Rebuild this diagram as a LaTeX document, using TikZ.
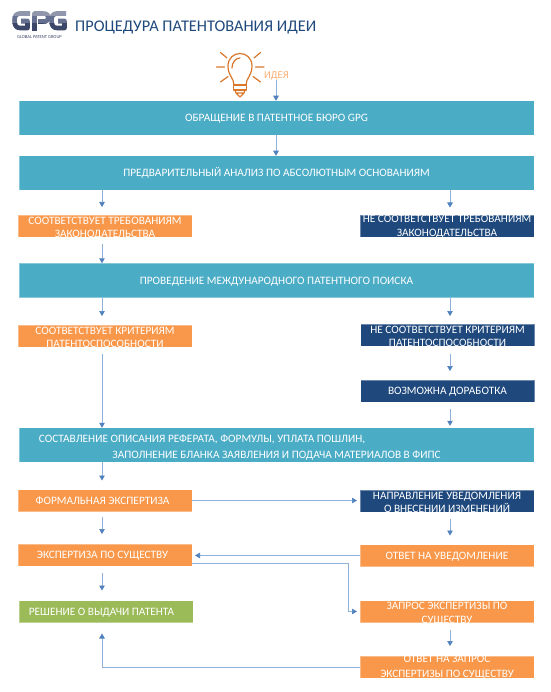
\documentclass[tikz,border=0pt]{standalone}
\usepackage{fontspec}
\setmainfont{Carlito}
\usetikzlibrary{arrows.meta,calc}
\definecolor{teal1}{HTML}{4BACC6}
\definecolor{org}{HTML}{F9984A}
\definecolor{navy}{HTML}{1F497D}
\definecolor{grn}{HTML}{9BBB59}
\definecolor{lnk}{HTML}{8FB0DA}
\definecolor{tip}{HTML}{4F81BD}
\definecolor{bulb}{HTML}{D9782D}
\definecolor{idealab}{HTML}{FAAE72}
\definecolor{logoa}{HTML}{9097AC}
\definecolor{logob}{HTML}{667090}
\definecolor{logoc}{HTML}{3C4668}
\newcommand{\twol}[4]{\smash{\raisebox{#1}{\fontsize{11.3}{#2}\selectfont\begin{tabular}{@{}c@{}}#3\\#4\end{tabular}}}}
\newcommand{\logopaths}{%
 \draw[logostroke] (30,13.5) -- (20,13.5) .. controls (16,13.5) and (14.5,16) .. (14.5,20.5) .. controls (14.5,25) and (16,28) .. (20,28) -- (27.5,28) -- (27.5,21) -- (21,21);
 \draw[logostroke] (34.5,31) -- (34.5,13.5) -- (43,13.5) .. controls (47,13.5) and (48.5,15) .. (48.5,17.5) .. controls (48.5,20) and (47,21.5) .. (43,21.5) -- (38,21.5);
 \draw[logostroke] (66,13.5) -- (57,13.5) .. controls (53,13.5) and (51.5,16) .. (51.5,20.5) .. controls (51.5,25) and (53,28) .. (57,28) -- (64.5,28) -- (64.5,21) -- (58,21);
}
\tikzset{
 x=1pt,y=-1pt,
 logostroke/.style={line width=4.6pt,line join=round},
 box/.style={minimum width=#1,inner sep=0pt,outer sep=0pt,text=white,align=center,font=\fontsize{11.3}{14}\selectfont,text height=7.2pt,text depth=0pt,draw=white,draw opacity=.35,line width=.6pt},
 tealbox/.style={box=515pt,fill=teal1,minimum height=34.5pt},
 orgbox/.style={box=174pt,fill=org,minimum height=22pt},
 navybox/.style={box=174pt,fill=navy,minimum height=22pt},
 grnbox/.style={box=174pt,fill=grn,minimum height=22pt},
 arr/.style={draw=lnk,line width=.7pt,-{Triangle[length=5pt,width=5.5pt,fill=tip,color=tip]}},
 bulbline/.style={draw=bulb,line width=1.2pt,line cap=round,line join=round},
}
\begin{document}
\begin{tikzpicture}
\useasboundingbox (0,0) rectangle (550,692);
\fill[white] (0,0) rectangle (550,692);
\coordinate (L) at (102,0);
\coordinate (R) at (450,0);
% logo
\begin{scope}\clip (0,9) rectangle (80,17); \begin{scope}[draw=logoa]\logopaths\end{scope}\end{scope}
\begin{scope}\clip (0,17) rectangle (80,24); \begin{scope}[draw=logob]\logopaths\end{scope}\end{scope}
\begin{scope}\clip (0,24) rectangle (80,33); \begin{scope}[draw=logoc]\logopaths\end{scope}\end{scope}
\node[inner sep=0pt,text=logoc,font=\fontsize{4.6}{5}\selectfont] (logosub) at (39.5,37.3) {GLOBAL PATENT GROUP};
\node[anchor=west,inner sep=0pt,text=navy,font=\fontsize{16.3}{18}\selectfont] (title) at (75,27) {ПРОЦЕДУРА ПАТЕНТОВАНИЯ ИДЕИ};
% bulb
\draw[bulbline] (234,85) .. controls (234,78) and (228,76) .. (228,66) .. controls (228,58) and (234,53.5) .. (240,53.5) .. controls (246,53.5) and (252,58) .. (252,66) .. controls (252,76) and (246,78) .. (246,85);
\draw[bulbline] (233.5,85) rectangle (246.5,90);
\draw[bulbline] (235,90) -- (236,93) -- (244,93) -- (245,90) (236,93) -- (240,97) -- (244,93);
\draw[bulbline] (232,68) .. controls (232,62) and (236,58) .. (240,58);
\draw[bulbline] (216.5,67) -- (224.5,67) (255.5,67) -- (264,67) (220.5,52.5) -- (227,58) (260.5,52.5) -- (254,58) (220.5,82) -- (228,76.5) (260.5,82) -- (253,76.5);
\node[anchor=west,inner sep=0pt,text=idealab,font=\fontsize{10.5}{11}\selectfont] (idea) at (264,76) {ИДЕЯ};
% boxes
\node[tealbox] (t1) at (276.5,118) {ОБРАЩЕНИЕ В ПАТЕНТНОЕ БЮРО GPG};
\node[tealbox] (t2) at (276.5,173) {ПРЕДВАРИТЕЛЬНЫЙ АНАЛИЗ ПО АБСОЛЮТНЫМ ОСНОВАНИЯМ};
\node[orgbox] (o1) at (105,226) {\twol{-1.5pt}{13.5}{СООТВЕТСТВУЕТ ТРЕБОВАНИЯМ}{ЗАКОНОДАТЕЛЬСТВА}};
\node[navybox] (n1) at (447,226.5) {\twol{0.5pt}{14}{НЕ СООТВЕТСТВУЕТ ТРЕБОВАНИЯМ}{ЗАКОНОДАТЕЛЬСТВА}};
\node[tealbox] (t3) at (276.5,280.5) {ПРОВЕДЕНИЕ МЕЖДУНАРОДНОГО ПАТЕНТНОГО ПОИСКА};
\node[orgbox] (o2) at (105,336) {\twol{-1.2pt}{13}{СООТВЕТСТВУЕТ КРИТЕРИЯМ}{ПАТЕНТОСПОСОБНОСТИ}};
\node[navybox] (n2) at (447.5,335) {\twol{-1.2pt}{13}{НЕ СООТВЕТСТВУЕТ КРИТЕРИЯМ}{ПАТЕНТОСПОСОБНОСТИ}};
\node[navybox] (n3) at (447.5,391) {ВОЗМОЖНА ДОРАБОТКА};
\node[tealbox] (t4) at (276.5,445) {\twol{-1.5pt}{16.5}{\hspace*{-149pt}СОСТАВЛЕНИЕ ОПИСАНИЯ РЕФЕРАТА, ФОРМУЛЫ, УПЛАТА ПОШЛИН,}{ЗАПОЛНЕНИЕ БЛАНКА ЗАЯВЛЕНИЯ И ПОДАЧА МАТЕРИАЛОВ В ФИПС}};
\node[orgbox] (o3) at (105,500.5) {\hspace*{-5pt}ФОРМАЛЬНАЯ ЭКСПЕРТИЗА};
\node[navybox] (n4) at (447,501) {\twol{-1.4pt}{13.5}{НАПРАВЛЕНИЕ УВЕДОМЛЕНИЯ}{О ВНЕСЕНИИ ИЗМЕНЕНИЙ}};
\node[orgbox] (o4) at (105,555) {\hspace*{-5pt}ЭКСПЕРТИЗА ПО СУЩЕСТВУ};
\node[orgbox] (o5) at (447,555.5) {ОТВЕТ НА УВЕДОМЛЕНИЕ};
\node[grnbox] (g1) at (106,611.5) {\hspace*{-9pt}РЕШЕНИЕ О ВЫДАЧИ ПАТЕНТА};
\node[orgbox] (o6) at (447,611.5) {\twol{-1pt}{14.5}{ЗАПРОС ЭКСПЕРТИЗЫ ПО}{СУЩЕСТВУ}};
\node[orgbox] (o7) at (447,667) {\twol{1pt}{15.5}{ОТВЕТ НА ЗАПРОС}{ЭКСПЕРТИЗЫ ПО СУЩЕСТВУ}};
% connectors
\coordinate (I) at (276,0);
\draw[arr] (I |- idea.south) -- (I |- t1.north);
\draw[arr] (I |- t1.south) -- (I |- t2.north);
\draw[arr,shorten >=8pt] (L |- t2.south) -- (L |- o1.north);
\draw[arr,shorten >=8pt] (R |- t2.south) -- (R |- n1.north);
\draw[arr,shorten <=7pt] (L |- o1.south) -- (L |- t3.north);
\draw[arr,shorten >=9pt] (L |- t3.south) -- (L |- o2.north);
\draw[arr,shorten >=8pt] (R |- t3.south) -- (R |- n2.north);
\draw[arr,shorten <=7pt] (L |- o2.south) -- (L |- t4.north);
\draw[arr,shorten <=8pt,shorten >=9pt] (R |- n2.south) -- (R |- n3.north);
\draw[arr,shorten <=7pt,shorten >=2pt] (R |- n3.south) -- (R |- t4.north);
\draw[arr,shorten >=9pt] (L |- t4.south) -- (L |- o3.north);
\draw[arr,shorten <=5pt,shorten >=10pt] (L |- o3.south) -- (L |- o4.north);
\draw[arr,shorten <=7pt,shorten >=10pt] (L |- o4.south) -- (L |- g1.north);
\draw[arr,shorten >=3pt] (o3.east) -- (o3.east -| n4.west);
\draw[arr,shorten <=7pt,shorten >=9pt] (R |- n4.south) -- (R |- o5.north);
\draw[arr,shorten >=3pt] (o5.west) -- (o5.west -| o4.east);
\coordinate (Bend) at (348,0);
\coordinate (Out) at ([yshift=-8pt]o4.east);
\draw[arr,shorten >=3pt] (Out) -- (Bend |- Out) |- (o6.west);
\draw[arr,shorten <=7pt,shorten >=10pt] (R |- o6.south) -- (R |- o7.north);
\draw[arr,shorten >=11pt] (o7.west) -| (L |- g1.south);
\end{tikzpicture}
\end{document}
